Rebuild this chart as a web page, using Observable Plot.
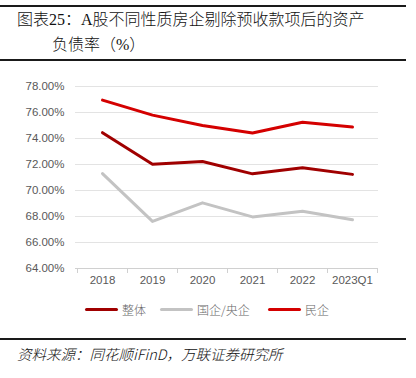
<!DOCTYPE html>
<html><head><meta charset="utf-8">
<script src="https://cdn.jsdelivr.net/npm/d3@7"></script>
<script src="https://cdn.jsdelivr.net/npm/@observablehq/plot@0.6"></script>
<style>
html,body{margin:0;padding:0;background:#fff;}
body{width:416px;height:378px;position:relative;overflow:hidden;font-family:"Noto Sans CJK SC",sans-serif;}
.rule{position:absolute;left:0;width:406px;height:2px;background:#1a1a1a;}
.title{position:absolute;font-family:"Liberation Serif","Noto Sans CJK SC",serif;font-size:16px;font-weight:300;color:#111;white-space:nowrap;line-height:20px;}
#chart{position:absolute;left:0;top:62px;}
.legend{position:absolute;top:300px;left:0;width:416px;font-size:12px;font-weight:300;color:#666;}
.li{position:absolute;top:0;display:flex;align-items:center;height:18px;white-space:nowrap;}
.sw{display:inline-block;width:33px;height:3px;border-radius:2px;margin-right:4px;}
.source{position:absolute;left:17px;top:343px;font-size:14.5px;font-weight:300;font-style:italic;color:#111;white-space:nowrap;}
</style></head>
<body>
<div class="rule" style="top:5px"></div>
<div class="title" style="left:17px;top:10px">图表25：A股不同性质房企剔除预收款项后的资产</div>
<div class="title" style="left:52px;top:35px">负债率（%）</div>
<div class="rule" style="top:59px"></div>
<div id="chart"></div>
<div class="legend">
  <div class="li" style="left:85px"><span class="sw" style="background:#a00000"></span>整体</div>
  <div class="li" style="left:160px"><span class="sw" style="background:#c3c3c3"></span>国企/央企</div>
  <div class="li" style="left:268px"><span class="sw" style="background:#d40000"></span>民企</div>
</div>
<div class="rule" style="top:338px"></div>
<div class="source">资料来源：同花顺iFinD，万联证券研究所</div>
<script>
const categories = ["2018","2019","2020","2021","2022","2023Q1"];
const seriesNames = ["整体","国企/央企","民企"];
const overall = [74.45, 72.02, 72.23, 71.28, 71.75, 71.24];
const soe = [71.30, 67.62, 69.05, 67.97, 68.40, 67.75];
const privateCo = [76.95, 75.80, 75.00, 74.42, 75.25, 74.88];
const yTicks = [64, 66, 68, 70, 72, 74, 76, 78];
const colors = ["#a00000", "#c3c3c3", "#d40000"];

const seriesValues = [overall, soe, privateCo];
const data = [];
seriesNames.forEach((s, i) => categories.forEach((c, j) => data.push({series: s, cat: c, value: seriesValues[i][j]})));

const boundaryTicks = (index, scales, values, dims) => {
  const g = d3.create("svg:g");
  const x = scales.x, bw = x.bandwidth();
  const y0 = dims.height - dims.marginBottom;
  const xs = categories.map(c => x(c)).concat([x(categories[categories.length-1]) + bw]);
  g.append("line").attr("x1", dims.marginLeft).attr("x2", dims.width - dims.marginRight)
    .attr("y1", y0 + 0.5).attr("y2", y0 + 0.5).attr("stroke", "#d0d0d0");
  xs.forEach(v => g.append("line").attr("x1", v + 0.5).attr("x2", v + 0.5)
    .attr("y1", y0).attr("y2", y0 + 5).attr("stroke", "#d0d0d0"));
  return g.node();
};

const chart = Plot.plot({
  width: 416,
  height: 233,
  marginLeft: 75,
  marginRight: 38,
  marginTop: 24,
  marginBottom: 27,
  style: {fontFamily: "'Liberation Sans', sans-serif", fontSize: "11.5px", color: "#595959", background: "transparent"},
  x: {type: "band", domain: categories, padding: 0, label: null, tickSize: 0, tickPadding: 7},
  y: {domain: [64, 78], ticks: yTicks, tickFormat: d => d.toFixed(2) + "%", label: null, tickSize: 0, tickPadding: 11},
  color: {domain: seriesNames, range: colors},
  marks: [
    Plot.ruleY(yTicks.filter(t => t > 64), {stroke: "#e3e3e3", strokeWidth: 1}),
    boundaryTicks,
    Plot.line(data, {x: "cat", y: "value", z: "series", stroke: "series", strokeWidth: 3, strokeLinejoin: "round", strokeLinecap: "round"})
  ]
});
document.getElementById("chart").appendChild(chart);
</script>
</body></html>
